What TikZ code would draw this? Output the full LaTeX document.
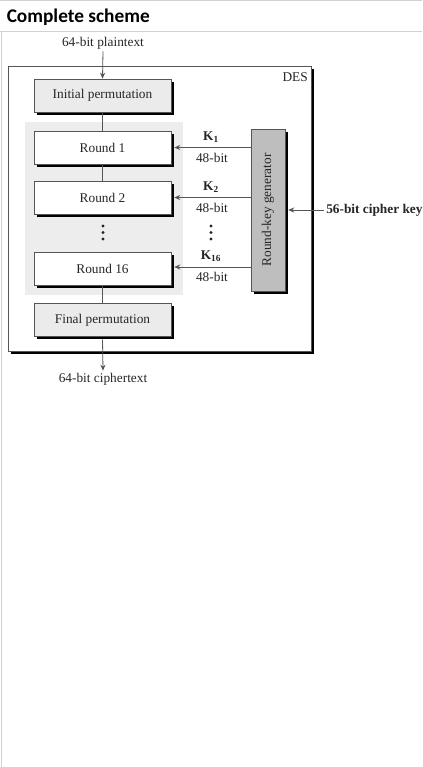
\documentclass[tikz,border=0pt]{standalone}
\usepackage{fontspec}
\setmainfont{Liberation Serif}
\newfontfamily\hdrfont{Carlito}
\usetikzlibrary{arrows.meta,shadows}
\definecolor{txt}{HTML}{262626}
\definecolor{bord}{HTML}{555555}
\definecolor{permfill}{HTML}{EBEBEB}
\definecolor{regionfill}{HTML}{EDEDED}
\definecolor{rkgfill}{HTML}{BEBEBE}
\definecolor{frame}{HTML}{D2D2D2}
\tikzset{
  shad/.style={drop shadow={shadow xshift=2pt,shadow yshift=-2pt,fill=black,opacity=1}},
  permbox/.style={draw=bord,line width=0.5pt,fill=permfill,shad,minimum width=102.75pt,minimum height=24.75pt,inner sep=0pt,text=txt,font=\fontsize{10}{12}\selectfont},
  roundbox/.style={permbox,fill=white},
  rkgbox/.style={draw=bord,line width=0.5pt,fill=rkgfill,shad,minimum width=25.5pt,minimum height=121.5pt,inner sep=0pt},
  desbox/.style={draw=bord,line width=0.6pt,fill=white,shad,minimum width=227.25pt,minimum height=213.75pt,inner sep=0pt},
  lbl/.style={text=txt,font=\fontsize{10}{12}\selectfont,inner sep=1.5pt},
  conn/.style={draw=bord,line width=0.6pt},
  arr/.style={conn,-{Stealth[length=4.5pt,width=3.8pt]}},
  dots/.style={fill=txt,circle,inner sep=0pt,minimum size=2.6pt}
}
\begin{document}
\begin{tikzpicture}[x=0.75pt,y=-0.75pt]
\useasboundingbox (0,0) rectangle (422,767);
% page frame
\draw[frame,line width=0.75pt] (0,0.5) -- (422,0.5);
\draw[frame,line width=0.75pt] (0,31.5) -- (422,31.5);
\draw[frame,line width=0.9pt] (1.5,31.5) -- (1.5,767);
\node[anchor=west,inner sep=0pt,font=\hdrfont\bfseries\fontsize{14.5}{16}\selectfont] (hdr) at (6.5,17) {Complete scheme};
% DES outer box
\node[desbox] (des) at (159.5,208.5) {};
\node[lbl,anchor=north east] (deslbl) at (310,70) {DES};
% rounds region
\fill[regionfill] (25,122) rectangle (183,295);
% main column
\node[permbox] (ip) at (102.5,95.5) {Initial permutation};
\node[roundbox] (r1) at (102.5,147.5) {Round 1};
\node[roundbox] (r2) at (102.5,197.5) {Round 2};
\node[roundbox] (r16) at (102.5,268.5) {Round 16};
\node[permbox] (fp) at (102.5,320) {Final permutation};
\node[dots] (d1) at (103,226) {};
\node[dots] (d2) at (103,232.5) {};
\node[dots] (d3) at (103,239) {};
% key generator
\node[rkgbox] (rkg) at (268,210) {};
\node[lbl,rotate=90] (rkgt) at (rkg) {Round-key generator};
% inputs/outputs
\node[lbl] (pt) at (103,43) {64-bit plaintext};
\node[lbl] (ct) at (103,379) {64-bit ciphertext};
\node[lbl,anchor=west,font=\bfseries\fontsize{10}{12}\selectfont] (ck) at (324,210) {56-bit cipher key};
\draw[arr] (pt.south) -- (ip.north);
\draw[conn] (ip.south) -- (r1.north);
\draw[conn] (r1.south) -- (r2.north);
\draw[conn] (r16.south) -- (fp.north);
\draw[arr] ([yshift=-2pt]fp.south) -- (ct.north);
\draw[arr] (ck.west) -- ([xshift=2.2pt]rkg.east);
% round keys
\draw[arr] (rkg.west |- r1) -- ([xshift=2.2pt]r1.east);
\draw[arr] (rkg.west |- r2) -- ([xshift=2.2pt]r2.east);
\draw[arr] (rkg.west |- 0,267) -- ([xshift=2.2pt]r16.east |- 0,267);
\node[lbl,font=\bfseries\fontsize{10}{12}\selectfont] (k1) at (211,137) {K\textsubscript{1}};
\node[lbl] (b1) at (212,158) {48-bit};
\node[lbl,font=\bfseries\fontsize{10}{12}\selectfont] (k2) at (211,187) {K\textsubscript{2}};
\node[lbl] (b2) at (212,208) {48-bit};
\node[dots] (e1) at (211,226) {};
\node[dots] (e2) at (211,232.5) {};
\node[dots] (e3) at (211,239) {};
\node[lbl,font=\bfseries\fontsize{10}{12}\selectfont] (k16) at (211,256) {K\textsubscript{16}};
\node[lbl] (b16) at (212,277) {48-bit};
\end{tikzpicture}
\end{document}
